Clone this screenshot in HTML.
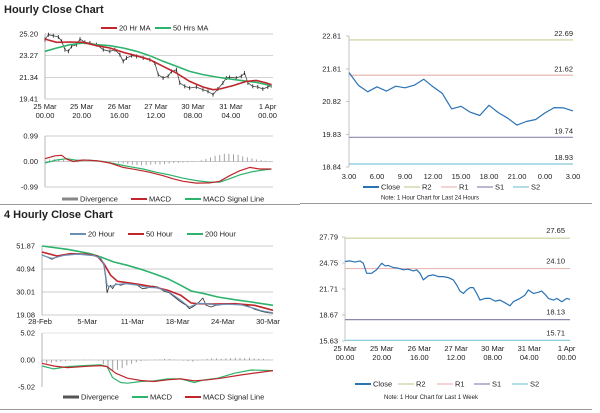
<!DOCTYPE html>
<html><head><meta charset="utf-8"><style>
body{margin:0;background:#fff;width:600px;height:413px;overflow:hidden}
svg{display:block;font-family:"Liberation Sans",sans-serif}
text{font-size:7.5px;fill:#222}
</style></head><body>
<svg id="c" width="600" height="413" viewBox="0 0 600 413">
<text x="4" y="13" style="font-size:11px;font-weight:bold">Hourly Close Chart</text>
<text x="4" y="218" style="font-size:11px;font-weight:bold">4 Hourly Close Chart</text>
<line x1="0" y1="204.5" x2="300" y2="204.5" stroke="#999"/>
<line x1="300" y1="203.5" x2="592" y2="203.5" stroke="#999"/>
<line x1="0" y1="409.5" x2="300" y2="409.5" stroke="#999"/>
<line x1="300" y1="409.5" x2="592" y2="409.5" stroke="#999"/>
</svg>
<script>
// ---- Hourly chart data ----
const hTicks=[0,27,54.7,81.7,109,137,164];
const hTickL1=["25 Mar","25 Mar","26 Mar","27 Mar","30 Mar","31 Mar","1 Apr"];
const hTickL2=["00.00","20.00","16.00","12.00","08.00","04.00","00.00"];
const hYTicks=[25.20,23.27,21.34,19.41];
const hCloseT=[0,2.5,6.1,9.8,12.3,14.7,17.2,19.6,23.3,25.8,29.4,33.1,38,42.9,47.8,51.5,55.2,57.6,60.1,63.8,67.4,72.3,77.3,80.9,83.4,87,90.7,93.2,96.8,99.3,103,106.6,111.5,116.4,120.1,123.8,127.4,131.1,133.6,136,140.9,144.6,147,149.5,153.1,156.8,160.5,164.2,166.6];
const hClose=[24.70,25.14,25.05,24.93,24.55,23.80,23.66,24.10,24.25,24.75,24.46,24.40,24.25,23.80,23.66,23.80,23.36,22.77,23.06,23.27,23.21,23.06,22.91,22.62,21.58,21.28,21.43,21.87,22.02,20.84,20.54,20.39,20.48,20.24,20.09,19.80,20.30,20.84,21.28,21.34,21.28,21.43,21.73,20.84,20.54,20.48,20.30,20.48,20.60];
const hMa20T=[0,8.6,18.4,28.2,38,47.8,57.6,67.4,77.3,87,96.8,106.6,116.4,123.8,128.7,138.5,148.3,155.6,163,166.6];
const hMa20=[24.75,24.46,24.49,24.46,24.16,23.95,23.57,23.27,22.91,22.32,21.73,20.98,20.48,20.24,20.30,20.60,20.98,21.07,20.84,20.69];
const hMa50T=[0,8.6,18.4,28.2,38,47.8,57.6,67.4,77.3,87,96.8,106.6,116.4,126.2,136,145.9,155.6,166.6];
const hMa50=[23.66,23.95,24.25,24.40,24.25,24.16,23.95,23.66,23.27,22.77,22.32,21.87,21.58,21.37,21.19,21.04,20.90,20.60];
const hMacdT=[0,7.4,12.3,16,21,28.2,38,47.8,57.6,67.4,77.3,87,94.4,101.8,111.5,121.3,128.7,136,143.4,150.8,158.2,166.8];
const hMacd=[0.11,0.22,0.24,0.09,0,0.06,0.03,-0.06,-0.23,-0.32,-0.42,-0.55,-0.67,-0.77,-0.84,-0.83,-0.77,-0.55,-0.36,-0.23,-0.29,-0.29];
const hSigT=[0,8.6,16,23.3,33.1,42.9,52.7,62.5,72.3,82.1,91.9,101.8,111.5,121.3,128.7,136,143.4,153.3,163,166.8];
const hSig=[-0.06,0.06,0.11,0.05,0.05,0,-0.10,-0.20,-0.29,-0.42,-0.52,-0.65,-0.74,-0.80,-0.80,-0.67,-0.52,-0.39,-0.32,-0.29];
const hDiv=[0.05,0.08,0.1,0.1,0.06,0.02,-0.02,-0.03,-0.02,0,0.01,0.02,0.01,0,-0.02,-0.04,-0.06,-0.08,-0.1,-0.12,-0.14,-0.15,-0.14,-0.12,-0.1,-0.12,-0.1,-0.08,-0.06,-0.05,-0.04,-0.03,-0.02,0,0.05,0.1,0.16,0.22,0.26,0.3,0.3,0.28,0.26,0.2,0.16,0.12,0.08,0.05,0.03,0.02];
// ---- 4 hourly chart data ----
const fTickL=["28-Feb","5-Mar","11-Mar","18-Mar","24-Mar","30-Mar"];
const fYTicks=[51.87,40.94,30.01,19.08];
const fCloseT=[0,.11,.22,.33,.48,.63,.78,1,1.15,1.3,1.37,1.41,1.44,1.48,1.52,1.56,1.63,1.74,1.85,1.96,2.11,2.22,2.33,2.44,2.56,2.7,2.81,2.93,3.07,3.19,3.26,3.33,3.44,3.56,3.63,3.74,3.85,3.96,4.11,4.26,4.41,4.56,4.7,4.85,5,5.11];
const fClose=[47.75,46.64,45.53,46.64,47.75,48.23,48.23,47.75,47.44,45.85,42.68,36.35,29.69,32.39,33.18,31.60,33.97,33.18,33.97,34.45,33.18,31.60,31.91,32.86,32.39,30.33,29.69,27.63,25.26,23.67,22.09,22.88,24.47,27.16,23.67,22.88,23.67,23.99,24.47,23.99,24.15,23.36,21.77,20.82,20.19,19.87];
const f20T=[0,.22,.48,.78,1.15,1.3,1.37,1.44,1.52,1.63,1.85,2.11,2.33,2.56,2.81,3.07,3.26,3.44,3.63,3.85,4.11,4.41,4.7,4.85,5.11];
const f20=[47.5,46.0,47.4,48.0,47.3,46.0,43.5,33,32.5,33.5,34,33.3,32.2,32.0,30,26,22.8,24.6,24.5,23.9,24.2,23.9,22.2,21.1,20.1];
const f50T=[0,.33,.63,1,1.22,1.37,1.52,1.67,1.89,2.19,2.48,2.78,3.07,3.3,3.44,3.81,4.26,4.7,5.11];
const f50=[49.02,47.12,48.23,47.91,47.12,43.48,37.93,35.08,34.45,33.50,32.39,30.80,28.43,24.78,24.47,24.31,24.47,23.67,21.30];
const f200T=[0,.56,1.07,1.3,1.59,1.89,2.19,2.48,2.78,3.07,3.3,3.59,3.89,4.26,4.63,5.11];
const f200=[51.87,50.29,48.23,46.64,44.27,42.68,40.78,38.72,36.35,33.18,30.49,29.22,27.63,26.37,25.26,23.67];
const fMacdT=[0,.26,.56,.93,1.3,1.44,1.56,1.74,1.89,2.19,2.48,2.78,3.07,3.37,3.59,3.89,4.26,4.63,5.11];
const fMacd=[-1.11,-1.66,-1.23,-1.05,-0.92,-1.23,-3.26,-4.18,-4.31,-4.0,-3.87,-3.51,-3.51,-4.18,-3.69,-3.38,-2.46,-1.85,-1.97];
const fSigT=[0,.26,.56,1,1.3,1.44,1.63,1.89,2.19,2.48,2.78,3.07,3.37,3.67,3.96,4.41,4.78,5.11];
const fSig=[-0.62,-1.11,-1.41,-1.17,-1.05,-1.23,-2.46,-3.38,-3.81,-4.0,-3.69,-3.51,-3.87,-3.69,-3.38,-2.77,-2.34,-1.97];
const fDiv=[-0.5,-0.6,-0.5,-0.4,-0.3,-0.2,-0.1,-0.05,0,0.05,0.05,0,-0.1,-0.8,-1.6,-2.0,-1.8,-1.5,-1.0,-0.7,-0.4,-0.2,-0.1,0,0.05,0.1,0.2,0.2,0.1,0,-0.1,-0.2,-0.3,-0.1,0.1,0.2,0.3,0.3,0.2,0.3,0.35,0.4,0.4,0.35,0.4,0.3,0.25,0.2,0.1,0.05];
// ---- Right top: 24h ----
const dTickL=["3.00","6.00","9.00","12.00","15.00","18.00","21.00","0.00","3.00"];
const dYTicks=[22.81,21.81,20.82,19.83,18.84];
const dClose=[21.70,21.32,21.12,21.27,21.14,21.29,21.24,21.32,21.50,21.27,21.07,20.60,20.68,20.50,20.40,20.71,20.49,20.32,20.11,20.22,20.28,20.48,20.64,20.63,20.54];
const dLevels=[22.69,21.62,19.74,18.93];
// ---- Right bottom: week ----
const wTicks=[0,27.4,55.5,82.9,110.3,137.6,165.5];
const wYTicks=[27.79,24.75,21.71,18.67,15.63];
const wCloseT=[0,3.7,7.5,11.2,13.7,16.2,19.9,23.6,27.4,29.9,32.4,36.1,39.8,43.6,47.3,51,53.5,56,58.5,62.2,66,69.7,73.4,77.1,80.9,83.4,85.9,88.4,90.9,93.4,95.8,98.3,100.8,104.6,108.3,112.1,115.8,119.5,123.2,125.7,130.7,134.4,136.9,140.7,144.4,146.9,149.4,151.9,155.7,158.2,161.9,165.6,168];
const wClose=[24.93,25.00,24.85,25.00,24.73,23.55,23.55,23.95,24.73,24.42,24.46,24.22,24.14,23.95,24.02,23.83,23.95,23.55,22.77,23.24,23.36,23.16,23.16,23.04,22.77,22.18,21.47,21.20,21.59,21.87,21.87,21.20,20.41,20.61,20.61,20.30,20.41,20.10,19.75,20.22,20.61,21.00,21.59,21.20,21.32,21.47,21.08,20.61,20.41,20.61,20.22,20.61,20.49];
const wLevels=[27.65,24.10,18.13,15.71];
const levelNames=["R2","R1","S1","S2"];
const levelColors=["#c9cf9a","#e8b9b4","#8f86b0","#7fc6d6"];

const svg=document.getElementById('c');
const NS='http://www.w3.org/2000/svg';
function el(tag,attrs,name){const e=document.createElementNS(NS,tag);for(const k in attrs)e.setAttribute(k,attrs[k]);


svg.appendChild(e);return e;}
function txt(x,y,s,name,anchor){const t=el('text',{x:x,y:y,'text-anchor':anchor||'start'},name);t.textContent=s;return t;}
function lin(x1,y1,x2,y2,c,w,name){return el('line',{x1,y1,x2,y2,stroke:c,'stroke-width':w||1},name);}
function poly(ts,vs,xs,ys,c,w,name){let d=ts.map((t,i)=>(i?'L':'M')+xs(t).toFixed(1)+' '+ys(vs[i]).toFixed(1)).join(' ');return el('path',{d:d,fill:'none',stroke:c,'stroke-width':w,'stroke-linejoin':'round'},name);}
function lin2(a0,a1,p0,p1){return v=>p0+(v-a0)*(p1-p0)/(a1-a0);}
function legendLine(x,y,c,label,name,thick){lin(x,y,x+16,y,c,thick||2,name+'-swatch');txt(x+18,y+2.5,label,name);}

// ===== Hourly price =====
const hx=lin2(0,168,45,273), hy=lin2(25.20,19.41,34,99);
hYTicks.forEach((v,i)=>{lin(45,hy(v),273,hy(v),'#bbb',0.7,'h-gridline');txt(38,hy(v)+2.5,v.toFixed(2),'h-y-tick-label','end');});
lin(45,34,45,99,'#999',0.7,'h-y-axis');
hTicks.forEach((t,i)=>{txt(hx(t),109,hTickL1[i],'h-x-tick-label','middle');txt(hx(t),118,hTickL2[i],'h-x-tick-label','middle');});
poly(hCloseT,hClose,hx,hy,'#444',0.8,'h-close-series');
hCloseT.forEach((t,i)=>{lin(hx(t),hy(hClose[i])-2,hx(t),hy(hClose[i])+2,'#222',0.8,'h-close-bar');});
poly(hMa50T,hMa50,hx,hy,'#2db36b',1.6,'h-ma50-line');
poly(hMa20T,hMa20,hx,hy,'#c0262c',1.6,'h-ma20-line');
legendLine(101,28,'#c0262c','20 Hr MA','legend-20hr-ma');
legendLine(155,28,'#2db36b','50 Hrs MA','legend-50hrs-ma');
// Hourly MACD
const hmy=lin2(0.99,-0.99,136,187);
[0.99,0,-0.99].forEach(v=>{lin(45,hmy(v),273,hmy(v),'#bbb',0.7,'hm-gridline');txt(38,hmy(v)+2.5,v.toFixed(2),'hm-y-tick-label','end');});
lin(45,136,45,187,'#999',0.7,'hm-y-axis');
hDiv.forEach((v,i)=>{const x=hx(i*166/(hDiv.length-1));lin(x,hmy(0),x,hmy(v),'#999',0.9,'hm-divergence-bar');});
poly(hSigT,hSig,hx,hmy,'#2db36b',1.2,'hm-signal-line');
poly(hMacdT,hMacd,hx,hmy,'#c0262c',1.2,'hm-macd-line');
lin(62,199,78,199,'#888',3,'legend-divergence-swatch');txt(80,201.5,'Divergence','legend-divergence');
legendLine(131,199,'#c0262c','MACD','legend-macd');
legendLine(185,199,'#2db36b','MACD Signal Line','legend-macd-signal');

// ===== 4 hourly price =====
const fx=lin2(0,5.11,42,273), fy=lin2(51.87,19.08,246,315);
fYTicks.forEach(v=>{lin(42,fy(v),273,fy(v),'#bbb',0.7,'f-gridline');txt(35,fy(v)+2.5,v.toFixed(2),'f-y-tick-label','end');});
lin(42,246,42,315,'#999',0.7,'f-y-axis');
fTickL.forEach((s,i)=>{txt(fx(i)+(i==0?-2:0),324,s,'f-x-tick-label','middle');});
poly(fCloseT,fClose,fx,fy,'#333',0.8,'f-close-series');
poly(f200T,f200,fx,fy,'#2db36b',1.6,'f-200h-line');
poly(f50T,f50,fx,fy,'#c0262c',1.6,'f-50h-line');
poly(f20T,f20,fx,fy,'#6b8fb5',1.2,'f-20h-line');
legendLine(70,234,'#6b8fb5','20 Hour','legend-20-hour');
legendLine(128,234,'#c0262c','50 Hour','legend-50-hour');
legendLine(187,234,'#2db36b','200 Hour','legend-200-hour');
// 4H MACD
const fmy=lin2(5.02,-5.02,333,387);
[5.02,0,-5.02].forEach(v=>{txt(35,fmy(v)+2.5,v.toFixed(2),'fm-y-tick-label','end');});
lin(42,fmy(0),273,fmy(0),'#bbb',0.7,'fm-zero-line');
lin(42,fmy(5.02),273,fmy(5.02),'#ddd',0.7,'fm-gridline');
lin(42,333,42,387,'#999',0.7,'fm-y-axis');
fDiv.forEach((v,i)=>{const x=fx(i*5.11/(fDiv.length-1));lin(x,fmy(0),x,fmy(v),'#999',0.9,'fm-divergence-bar');});
poly(fMacdT,fMacd,fx,fmy,'#2db36b',1.2,'fm-macd-line');
poly(fSigT,fSig,fx,fmy,'#c0262c',1.2,'fm-signal-line');
lin(63,397,79,397,'#555',3,'legend-4h-divergence-swatch');txt(81,399.5,'Divergence','legend-4h-divergence');
legendLine(132,397,'#2db36b','MACD','legend-4h-macd');
legendLine(185,397,'#c0262c','MACD Signal Line','legend-4h-macd-signal');

// ===== Right top 24h =====
const dx=lin2(0,24,349,573), dy=lin2(22.81,18.84,36,167);
lin(349,36,349,167,'#aaa',0.7,'d-y-axis');
dYTicks.forEach(v=>{lin(346,dy(v),349,dy(v),'#aaa',0.7,'d-y-tick');txt(341,dy(v)+2.5,v.toFixed(2),'d-y-tick-label','end');});
dTickL.forEach((s,i)=>{txt(dx(i*3),179,s,'d-x-tick-label','middle');});
dLevels.forEach((v,i)=>{lin(349,dy(v),573,dy(v),levelColors[i],1.2,'d-level-'+levelNames[i]);txt(573,dy(v)-4,v.toFixed(2),'d-level-label','end');});
poly(dClose.map((v,i)=>i),dClose,dx,dy,'#2a72b5',1.2,'d-close-line');
legendLine(363,187,'#2a72b5','Close','d-legend-close');
legendLine(404,187,'#c9cf9a','R2','d-legend-r2',1.2);
legendLine(441,187,'#e8b9b4','R1','d-legend-r1',1.2);
legendLine(477,187,'#8f86b0','S1','d-legend-s1',1.2);
legendLine(513,187,'#7fc6d6','S2','d-legend-s2',1.2);
const n1=txt(430,199.5,'Note: 1 Hour Chart for Last 24 Hours','d-note','middle');n1.style.fontSize='6px';

// ===== Right bottom week =====
const wx=lin2(0,168,345,570), wy=lin2(27.79,15.63,237,341);
lin(345,237,345,341,'#aaa',0.7,'w-y-axis');
wYTicks.forEach(v=>{lin(342,wy(v),345,wy(v),'#aaa',0.7,'w-y-tick');txt(338,wy(v)+2.5,v.toFixed(2),'w-y-tick-label','end');});
wTicks.forEach((t,i)=>{txt(wx(t),351,hTickL1[i],'w-x-tick-label','middle');txt(wx(t),360,hTickL2[i],'w-x-tick-label','middle');});
wLevels.forEach((v,i)=>{lin(345,wy(v),570,wy(v),levelColors[i],1.2,'w-level-'+levelNames[i]);txt(565,wy(v)-5,v.toFixed(2),'w-level-label','end');});
poly(wCloseT,wClose,wx,wy,'#2a72b5',1.2,'w-close-line');
legendLine(355,384,'#2a72b5','Close','w-legend-close');
legendLine(398,384,'#c9cf9a','R2','w-legend-r2',1.2);
legendLine(437,384,'#e8b9b4','R1','w-legend-r1',1.2);
legendLine(474,384,'#8f86b0','S1','w-legend-s1',1.2);
legendLine(512,384,'#7fc6d6','S2','w-legend-s2',1.2);
const n2=txt(431,399,'Note: 1 Hour Chart for Last 1 Week','w-note','middle');n2.style.fontSize='6px';
</script>
</body></html>
